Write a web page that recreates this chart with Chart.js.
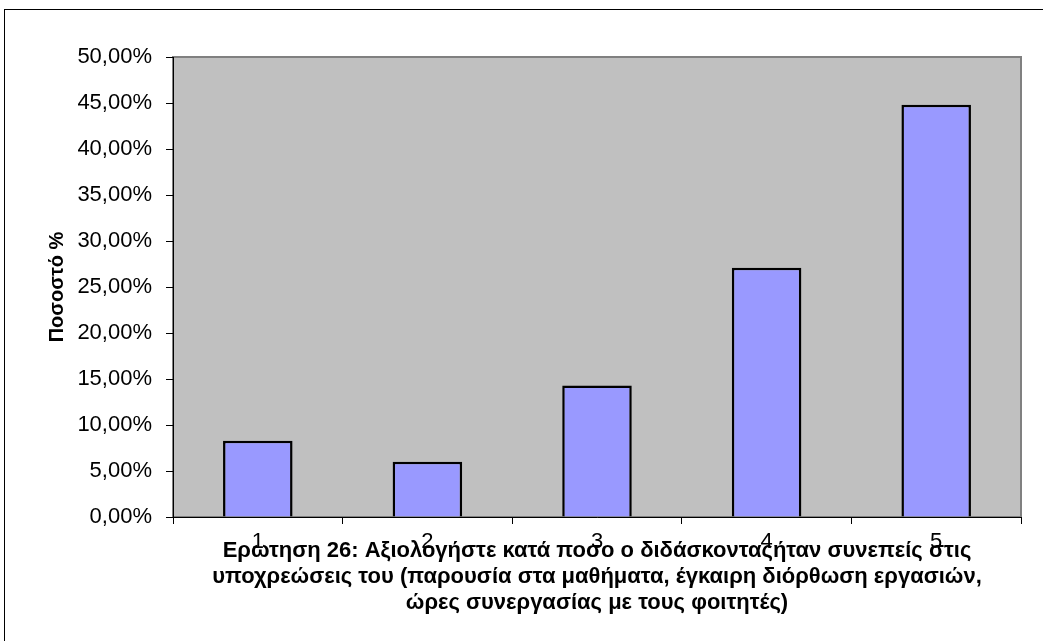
<!DOCTYPE html>
<html>
<head>
<meta charset="utf-8">
<script src="https://cdn.jsdelivr.net/npm/chart.js@4.4.1/dist/chart.umd.min.js"></script>
<style>
  html, body { margin: 0; padding: 0; background: #fff; }
  #wrap { width: 1043px; height: 641px; }
</style>
</head>
<body>
<div id="wrap"><canvas id="myChart"></canvas></div>
<script>
// data
const categories = ['1', '2', '3', '4', '5'];
const percentValues = [8.3, 6.0, 14.3, 27.1, 44.8];
const yAxisTitle = 'Ποσοστό %';
const xAxisTitle = [
    'Ερωτηση 26: Αξιολογήστε κατά ποσο ο διδάσκονταςήταν συνεπείς στις',
    'υποχρεώσεις του (παρουσία στα μαθήματα, έγκαιρη διόρθωση εργασιών,',
    'ώρες συνεργασίας με τους φοιτητές)'
];

const fontFamily = '"Liberation Sans", Arial, sans-serif';

// gray plot area + outer frame
const backgroundPlugin = {
    id: 'plotBackground',
    beforeDraw(chart) {
        const { ctx, chartArea } = chart;
        ctx.save();
        ctx.fillStyle = '#fff';
        ctx.fillRect(0, 0, chart.width, chart.height);
        ctx.strokeStyle = '#000';
        ctx.lineWidth = 1;
        ctx.strokeRect(4.5, 9.5, chart.width + 10, chart.height + 10);
        ctx.fillStyle = '#C0C0C0';
        ctx.fillRect(chartArea.left, chartArea.top, chartArea.width, chartArea.height);
        ctx.strokeStyle = '#808080';
        ctx.lineWidth = 2;
        ctx.strokeRect(chartArea.left, chartArea.top, chartArea.width, chartArea.height);
        ctx.restore();
    }
};

const ctx = document.getElementById('myChart');

new Chart(ctx, {
    type: 'bar',
    data: {
        labels: categories,
        datasets: [{
            data: percentValues,
            backgroundColor: '#9999FF',
            borderColor: '#000',
            borderWidth: 2.5,
            barPercentage: 0.41,
            categoryPercentage: 1
        }]
    },
    options: {
        responsive: true,
        maintainAspectRatio: false,
        animation: false,
        layout: {
            padding: { left: 0, right: 22, top: 57, bottom: 25 }
        },
        plugins: {
            legend: { display: false },
            tooltip: { enabled: false }
        },
        scales: {
            x: {
                afterFit: scale => { scale.height = 99; },
                grid: {
                    offset: true,
                    drawOnChartArea: false,
                    tickLength: 7,
                    color: '#000'
                },
                border: { display: true, color: '#000', width: 1 },
                ticks: {
                    color: '#000',
                    padding: 5,
                    font: { family: fontFamily, size: 22 }
                },
                title: {
                    display: true,
                    text: xAxisTitle,
                    color: '#000',
                    padding: { top: 0, bottom: 0 },
                    font: { family: fontFamily, size: 22, weight: 'bold', lineHeight: 1.18 }
                }
            },
            y: {
                min: 0,
                max: 50,
                afterFit: scale => { scale.width = 173; },
                grid: {
                    drawOnChartArea: false,
                    tickLength: 7,
                    color: '#000'
                },
                border: { display: true, color: '#000', width: 1 },
                ticks: {
                    stepSize: 5,
                    color: '#000',
                    padding: 14,
                    font: { family: fontFamily, size: 22 },
                    callback: v => v.toFixed(2).replace('.', ',') + '%'
                },
                title: {
                    display: true,
                    text: yAxisTitle,
                    color: '#000',
                    padding: { top: 45, bottom: 0 },
                    font: { family: fontFamily, size: 20, weight: 'bold' }
                }
            }
        }
    },
    plugins: [backgroundPlugin]
});
</script>
</body>
</html>
